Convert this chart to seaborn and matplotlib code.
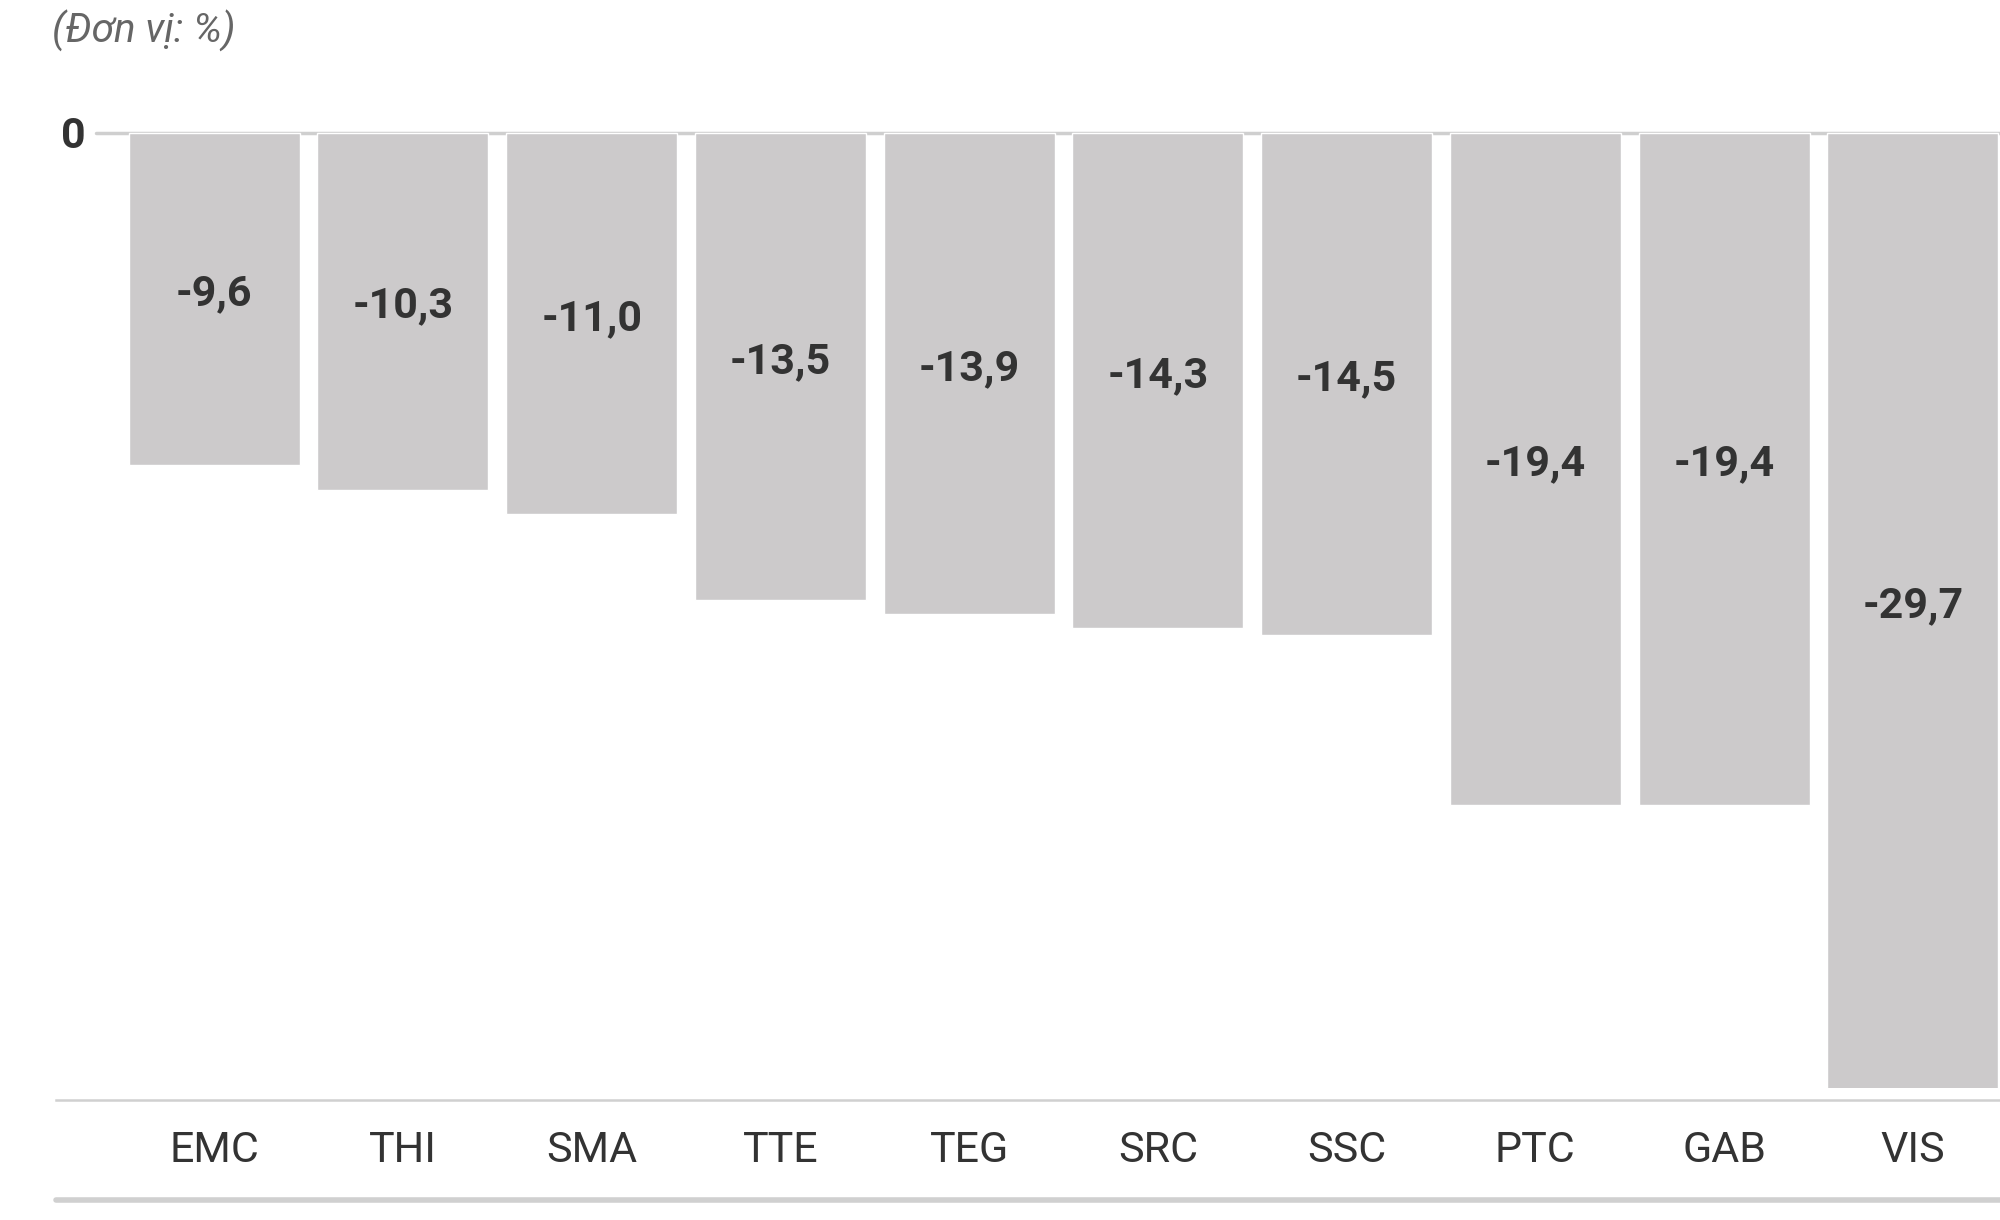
import pandas as pd
import matplotlib.pyplot as plt
from matplotlib.lines import Line2D
from matplotlib.transforms import blended_transform_factory
import seaborn as sns

# Datos del gráfico (Đơn vị: %)
ma_cp = ['EMC', 'THI', 'SMA', 'TTE', 'TEG', 'SRC', 'SSC', 'PTC', 'GAB', 'VIS']
bien_dong = [-9.6, -10.3, -11.0, -13.5, -13.9, -14.3, -14.5, -19.4, -19.4, -29.7]
nhan_gia_tri = ['-9,6', '-10,3', '-11,0', '-13,5', '-13,9', '-14,3', '-14,5', '-19,4', '-19,4', '-29,7']

df = pd.DataFrame({'ma': ma_cp, 'gia_tri': bien_dong})

sns.set_style('white')
plt.rcParams['font.family'] = ['Roboto', 'DejaVu Sans']

fig = plt.figure(figsize=(20, 12.2), dpi=100)
ax = fig.add_axes([0.028, 0.1082, 0.972, 0.797])

sns.barplot(data=df, x='ma', y='gia_tri', order=ma_cp, color='#cccacb',
            saturation=1, width=0.906, ax=ax)

y_min = -27.58
ax.set_xlim(-0.838, 9.462)
ax.set_ylim(y_min, 0.5)

# Nhãn giá trị ở giữa phần cột nhìn thấy
for i, (v, txt) in enumerate(zip(bien_dong, nhan_gia_tri)):
    ax.text(i, max(v, y_min) / 2 + 0.15, txt, ha='center', va='center',
            fontsize=31, fontweight='bold', color='#333333')

# Đường 0
ax.axhline(0, xmin=0.0206, xmax=1, color='#cfcfcf', lw=2.5, zorder=0)
trans = blended_transform_factory(ax.transAxes, ax.transData)
ax.text(0.0088, -0.1, '0', transform=trans, ha='center', va='center',
        fontsize=31, fontweight='bold', color='#333333')

# Trục dưới
for s in ['top', 'left', 'right']:
    ax.spines[s].set_visible(False)
ax.spines['bottom'].set_position(('outward', 8.6))
ax.spines['bottom'].set_color('#d0d0d0')
ax.spines['bottom'].set_linewidth(1.8)
ax.set_yticks([])
ax.tick_params(axis='x', length=0, pad=22, labelsize=31, labelcolor='#333333')
ax.set_xlabel('')
ax.set_ylabel('')

# Đường đáy dày
fig.add_artist(Line2D([0.028, 1.0], [0.0164, 0.0164], color='#d0d0d0', lw=4,
                      transform=fig.transFigure))

fig.text(0.026, 0.975, '(Đơn vị: %)', ha='left', va='center', fontsize=29,
         style='italic', color='#666666')

fig.savefig('out.png', dpi=100)
